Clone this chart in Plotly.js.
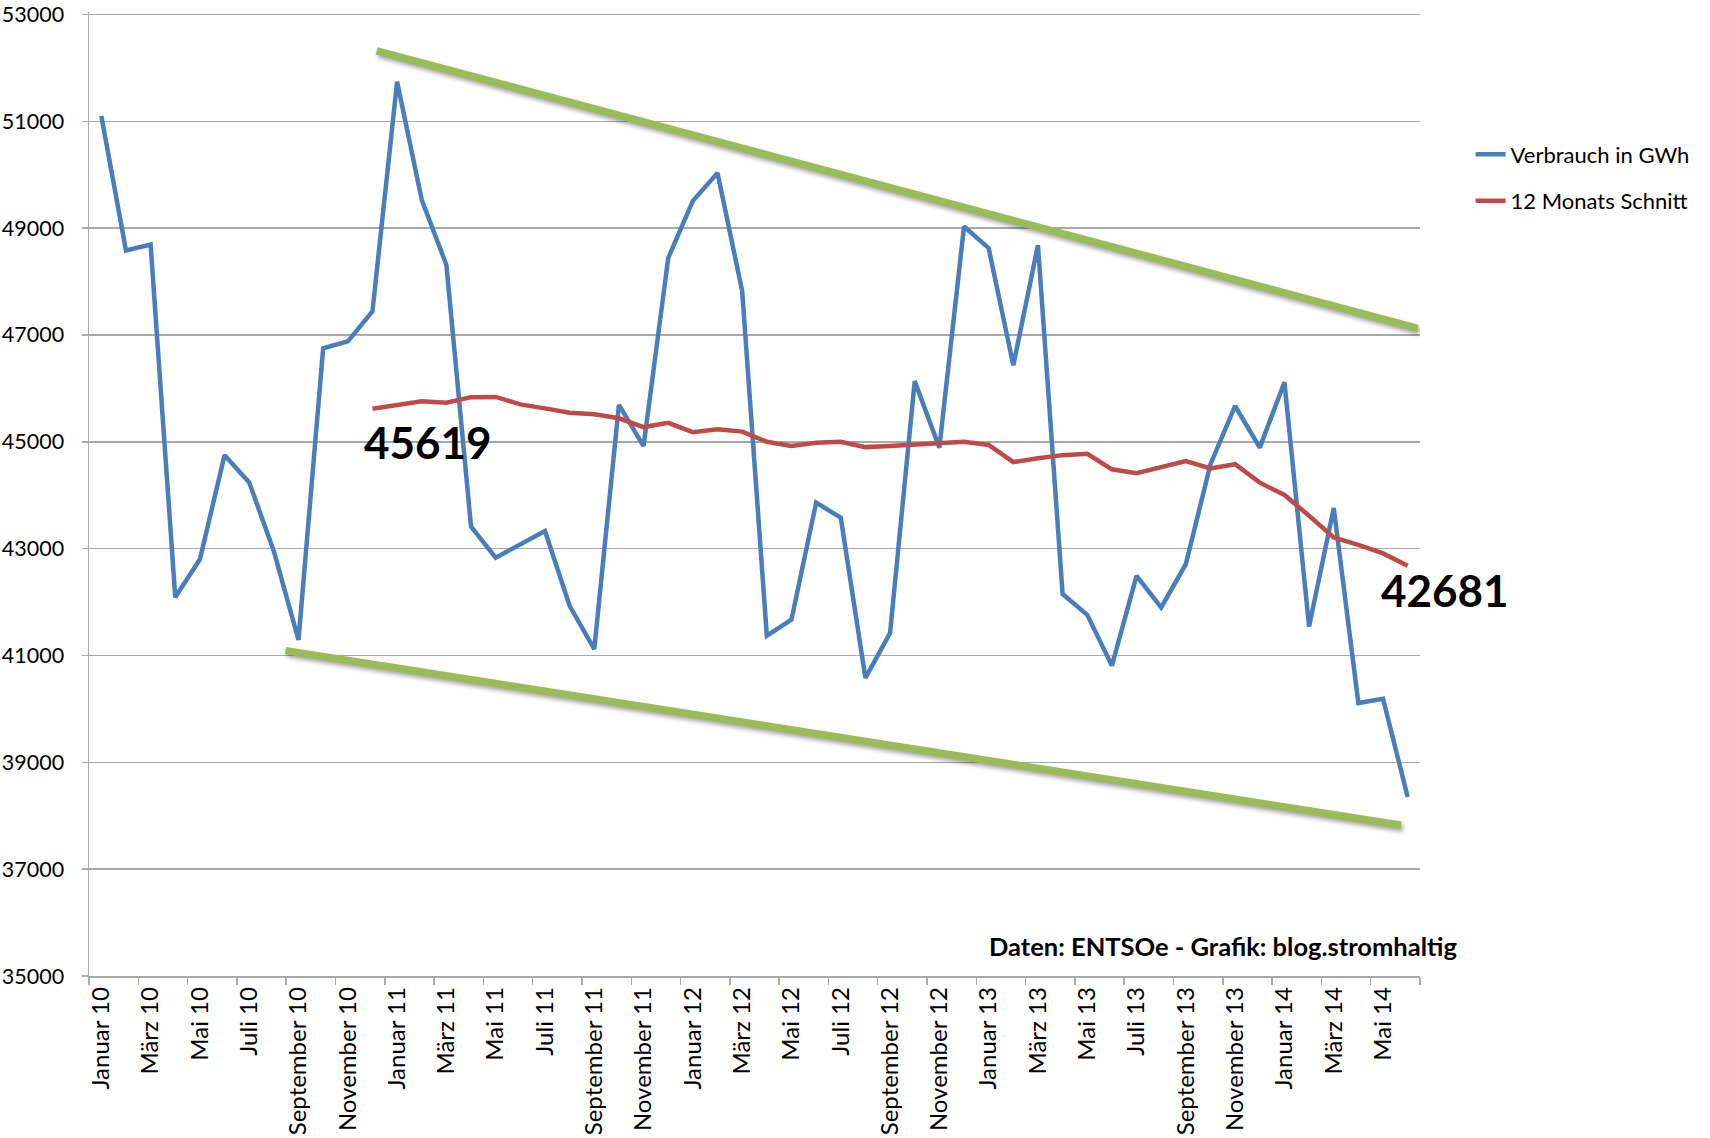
<!DOCTYPE html>
<html>
<head>
<meta charset="utf-8">
<script src="https://cdn.plot.ly/plotly-3.0.1.min.js"></script>
<style>
  html, body { margin: 0; padding: 0; background: #ffffff; }
  #chart { width: 1710px; height: 1138px; }
</style>
</head>
<body>
<div id="chart"></div>
<script>
// Monthly labels shown on the axis (every second month)
const tickLabels = ["Januar 10","März 10","Mai 10","Juli 10","September 10","November 10",
  "Januar 11","März 11","Mai 11","Juli 11","September 11","November 11",
  "Januar 12","März 12","Mai 12","Juli 12","September 12","November 12",
  "Januar 13","März 13","Mai 13","Juli 13","September 13","November 13",
  "Januar 14","März 14","Mai 14"];

// Verbrauch in GWh, Januar 2010 .. Juni 2014
const verbrauch = [51100, 48580, 48690, 42090, 42800, 44750, 44240, 42950, 41290, 46750,
  46880, 47440, 51740, 49530, 48310, 43410, 42830, 43090, 43330, 41930,
  41120, 45690, 44920, 48440, 49510, 50030, 47820, 41370, 41670, 43860,
  43580, 40580, 41420, 46135, 44890, 49030, 48625, 46430, 48680, 42150,
  41760, 40810, 42490, 41900, 42710, 44580, 45670, 44890, 46115, 41540,
  43760, 40110, 40190, 38350];

// 12 Monats Schnitt (starts Dezember 2010)
const schnitt = [null, null, null, null, null, null, null, null, null, null, null,
  45619, 45680, 45760, 45730, 45835, 45840, 45700, 45625, 45545, 45515,
  45440, 45275, 45355, 45180, 45235, 45190, 45000, 44920, 44980, 45000,
  44900, 44920, 44950, 44960, 45000, 44940, 44620, 44690, 44750, 44775,
  44485, 44410, 44515, 44640, 44500, 44580, 44235, 44005, 43615, 43210,
  43070, 42910, 42681];

// Y axis tick values
const yTicks = [35000, 37000, 39000, 41000, 43000, 45000, 47000, 49000, 51000, 53000];

// Hand-drawn trend channel (month index, GWh)
const trendTopX = [11.17, 53.4];
const trendTopY = [52318, 47125];
const trendBottomX = [7.47, 52.73];
const trendBottomY = [41091, 37822];

const idx = verbrauch.map((_, i) => i);
const tickPos = tickLabels.map((_, i) => i * 2);
const firstAvgIdx = schnitt.findIndex(v => v !== null);
const lastAvgIdx = schnitt.length - 1;

const FONT = "Lato, 'Open Sans', sans-serif";
const GRID = "#a9a9a9";

const traces = [
  { x: idx, y: verbrauch, type: "scatter", mode: "lines", name: "Verbrauch in GWh",
    legendgroup: "a", line: { color: "#4a7ebb", width: 4.5 } },
  { x: idx, y: schnitt, type: "scatter", mode: "lines", name: "12 Monats Schnitt",
    legendgroup: "b", line: { color: "#be4b48", width: 4.5 } },
  { x: trendTopX, y: trendTopY, type: "scatter", mode: "lines", showlegend: false,
    line: { color: "#9bbb59", width: 7.5 } },
  { x: trendBottomX, y: trendBottomY, type: "scatter", mode: "lines", showlegend: false,
    line: { color: "#9bbb59", width: 7.5 } }
];

const layout = {
  width: 1710, height: 1138,
  margin: { l: 89, r: 290, t: 12, b: 162, pad: 0 },
  paper_bgcolor: "#ffffff", plot_bgcolor: "#ffffff",
  font: { family: FONT, color: "#000000", size: 21 },
  showlegend: true,
  legend: { x: 1.038, xanchor: "left", y: 0.874, yanchor: "top",
    traceorder: "grouped", tracegroupgap: 15, bgcolor: "rgba(0,0,0,0)",
    borderwidth: 0,
    font: { family: FONT, size: 22, color: "#000" } },
  xaxis: {
    range: [-0.5, 53.5], tickmode: "array", tickvals: tickPos, ticktext: tickLabels,
    tickangle: -90, ticks: "", showgrid: false, zeroline: false,
    showline: true, linecolor: GRID, linewidth: 1.5,
    tickfont: { family: FONT, size: 24, color: "#000" },
    minor: { tick0: -0.5, dtick: 2, ticks: "outside", ticklen: 7, tickcolor: GRID, tickwidth: 1.5, showgrid: false }
  },
  yaxis: {
    range: [35000, 53045], tickmode: "array", tickvals: yTicks, ticktext: yTicks.map(String),
    ticks: "outside", ticklen: 6, tickcolor: GRID, tickwidth: 1.5,
    showgrid: true, gridcolor: GRID, gridwidth: 1.5, zeroline: false,
    showline: true, linecolor: GRID, linewidth: 1.5, ticklabeloverflow: "allow",
    tickfont: { family: FONT, size: 21.5, color: "#000" }, ticklabelstandoff: 13
  },
  annotations: [
    { x: 13.26, y: 44996, xref: "x", yref: "y", text: "<b>" + schnitt[firstAvgIdx] + "</b>",
      xanchor: "center", yanchor: "middle",
      showarrow: false, font: { family: FONT, size: 44, color: "#000" } },
    { x: lastAvgIdx, y: 42231, xref: "x", yref: "y", text: "<b>" + schnitt[lastAvgIdx] + "</b>",
      xanchor: "center", yanchor: "middle", xshift: 37,
      showarrow: false, font: { family: FONT, size: 44, color: "#000" } },
    { x: 0.852, y: 0.031, xref: "paper", yref: "paper", text: "<b>Daten: ENTSOe - Grafik: blog.stromhaltig</b>",
      xanchor: "center", yanchor: "middle",
      showarrow: false, font: { family: FONT, size: 25.5, color: "#000" } }
  ]
};

Plotly.newPlot("chart", traces, layout, { staticPlot: true, displayModeBar: false }).then(gd => {
  const tr = gd.querySelectorAll(".scatterlayer .trace");
  [2, 3].forEach(i => { if (tr[i]) tr[i].style.filter = "drop-shadow(2px 3px 2px rgba(0,0,0,0.35))"; });
});
</script>
</body>
</html>
